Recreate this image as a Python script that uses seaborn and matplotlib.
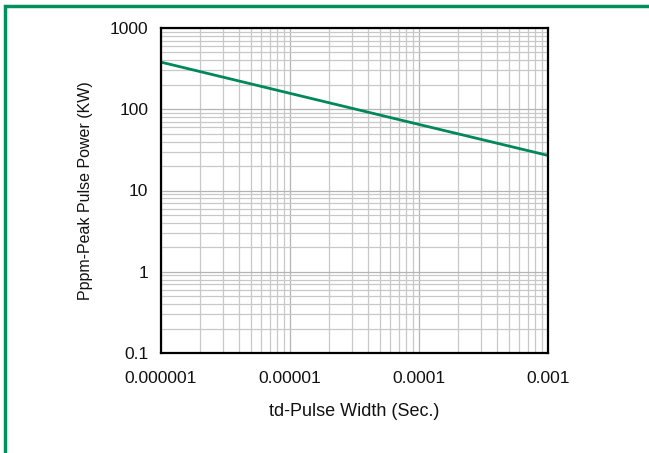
import matplotlib
matplotlib.use("Agg")
import matplotlib.pyplot as plt
import matplotlib.ticker as mticker
from matplotlib.patches import Rectangle
import seaborn as sns
import pandas as pd
import numpy as np

# Data
pulse_width = [1e-6, 1e-5, 1e-4, 1e-3]
peak_power = [380, 157, 65, 27]
x_ticks = [1e-6, 1e-5, 1e-4, 1e-3]
x_tick_labels = ["0.000001", "0.00001", "0.0001", "0.001"]
y_ticks = [0.1, 1, 10, 100, 1000]
y_tick_labels = ["0.1", "1", "10", "100", "1000"]

df = pd.DataFrame({"td": pulse_width, "P": peak_power})

sns.set_style("white")
plt.rcParams["font.family"] = ["Liberation Sans", "DejaVu Sans"]

fig = plt.figure(figsize=(6.49, 4.53), dpi=100)
ax = fig.add_axes([161/649, 1-353/453, (548-161)/649, (353-28)/453])

sns.lineplot(data=df, x="td", y="P", ax=ax, color="#00875A", linewidth=2)

ax.set_xscale("log")
ax.set_yscale("log")
ax.set_xlim(1e-6, 1e-3)
ax.set_ylim(0.1, 1000)

ax.set_xticks(x_ticks)
ax.set_xticklabels(x_tick_labels)
ax.set_yticks(y_ticks)
ax.set_yticklabels(y_tick_labels)
ax.xaxis.set_minor_locator(mticker.LogLocator(base=10, subs=np.arange(2, 10)))
ax.yaxis.set_minor_locator(mticker.LogLocator(base=10, subs=np.arange(2, 10)))
ax.xaxis.set_minor_formatter(mticker.NullFormatter())
ax.yaxis.set_minor_formatter(mticker.NullFormatter())

ax.grid(True, which="major", color="#b4b4b4", linewidth=0.9)
ax.grid(True, which="minor", color="#c8c8c8", linewidth=0.9)
ax.set_axisbelow(True)

for s in ax.spines.values():
    s.set_color("black")
    s.set_linewidth(1.6)

ax.tick_params(axis="both", which="major", direction="out", length=5, width=1.2,
               color="black", labelsize=12.5, labelcolor="#111111")
ax.tick_params(axis="x", which="major", pad=8)
ax.tick_params(axis="y", which="major", pad=4)
ax.tick_params(axis="x", which="minor", length=0)
ax.tick_params(axis="y", which="minor", direction="out", length=3, width=0.8, color="#888888")

ax.set_xlabel("td-Pulse Width (Sec.)", fontsize=13, labelpad=12, color="#111111")
ax.set_ylabel("Pppm-Peak Pulse Power (KW)", fontsize=11.5, labelpad=12, color="#111111")

# Green frame (left and top visible; continues past right/bottom edges)
fig.patches.append(Rectangle((5/649, -0.05), 1.2, (453-6)/453 + 0.05,
                             transform=fig.transFigure, fill=False,
                             edgecolor="#00905E", linewidth=2.5, zorder=10))

fig.savefig("out.png", dpi=100)
